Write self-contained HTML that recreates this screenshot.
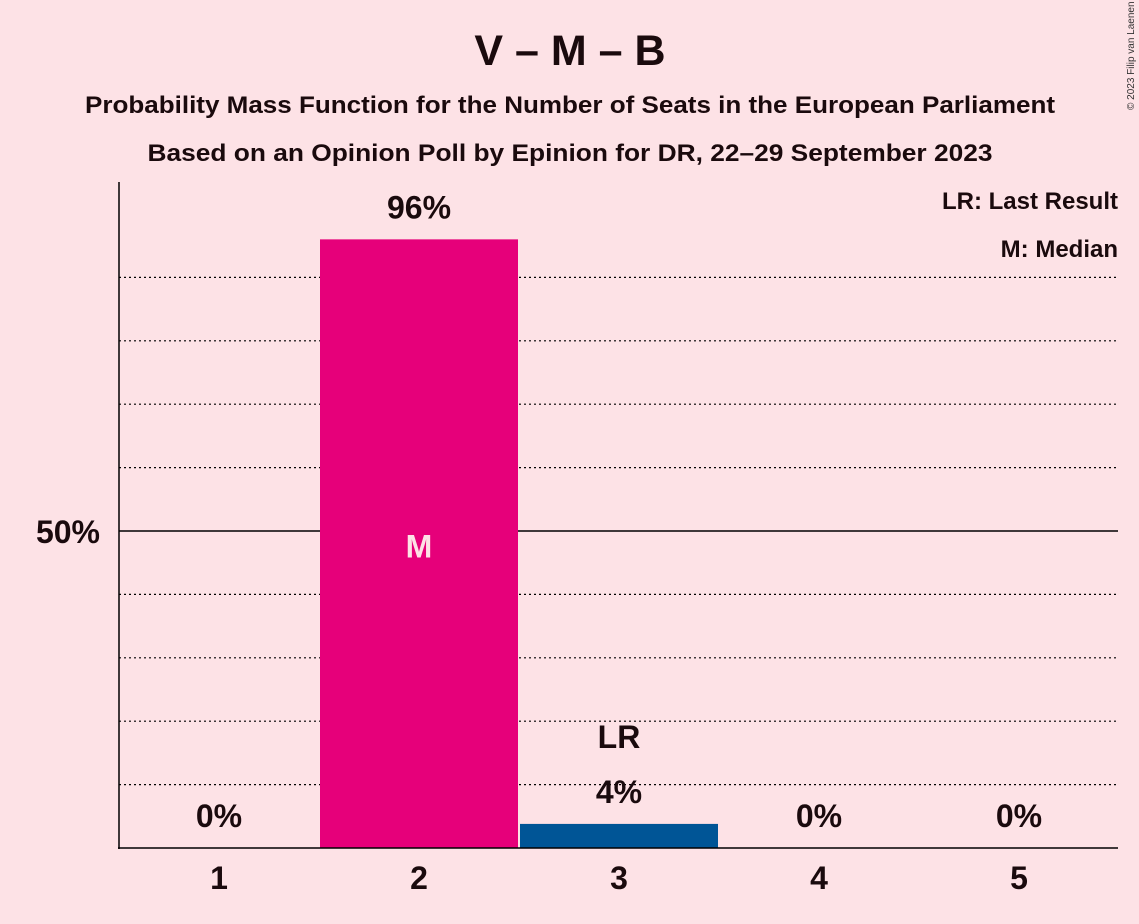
<!DOCTYPE html>
<html><head><meta charset="utf-8"><style>
body{margin:0;background:#fde2e6;}
svg{display:block;font-family:"Liberation Sans",sans-serif;}
</style></head><body>
<svg id="chart" width="1139" height="924">
<rect width="1139" height="924" fill="#fde2e6"/>
<text x="570" y="65" text-anchor="middle" font-size="43" font-weight="bold" fill="#1a0a0d">V – M – B</text>
<text x="570" y="113" text-anchor="middle" font-size="24" font-weight="bold" fill="#1a0a0d" textLength="970" lengthAdjust="spacingAndGlyphs">Probability Mass Function for the Number of Seats in the European Parliament</text>
<text x="570" y="161" text-anchor="middle" font-size="24" font-weight="bold" fill="#1a0a0d" textLength="845" lengthAdjust="spacingAndGlyphs">Based on an Opinion Poll by Epinion for DR, 22–29 September 2023</text>
<text x="1134" y="110" transform="rotate(-90 1134 110)" font-size="10" fill="#333">© 2023 Filip van Laenen</text>
<text x="1118" y="209" text-anchor="end" font-size="24" font-weight="bold" fill="#1a0a0d">LR: Last Result</text>
<text x="1118" y="257" text-anchor="end" font-size="24" font-weight="bold" fill="#1a0a0d">M: Median</text>
<g id="grid"></g>
<g id="bars"></g>
<line x1="119" y1="182" x2="119" y2="849" stroke="#000" stroke-width="1.5"/>
<line x1="118" y1="848" x2="1118" y2="848" stroke="#000" stroke-width="1.5"/>
<text x="100" y="543" text-anchor="end" font-size="32" font-weight="bold" fill="#1a0a0d">50%</text>
</svg>
<script>
const categories=["1","2","3","4","5"];
const values=[0,96,3.8,0,0];
const valueLabels=["0%","96%","4%","0%","0%"];
const medianIndex=1;
const lastResultIndex=2;
const x0=119,catW=200,y0=848,yScale=6.34;
const NS="http://www.w3.org/2000/svg";
function xc(i){return x0+catW*i+catW/2;}
function y(v){return y0-v*yScale;}
const grid=document.getElementById('grid'),bars=document.getElementById('bars');
for(let p=10;p<=90;p+=10){
 const l=document.createElementNS(NS,'line');
 l.setAttribute('x1',119);l.setAttribute('x2',1118);l.setAttribute('y1',y(p));l.setAttribute('y2',y(p));
 l.setAttribute('stroke','#000');
 if(p===50){l.setAttribute('stroke-width','1.5');}else{l.setAttribute('stroke-width','1.2');l.setAttribute('stroke-dasharray','2,3');}
 
 
 grid.appendChild(l);
}
function txt(parent,x,yy,s,size,fill){
 const t=document.createElementNS(NS,'text');
 t.setAttribute('x',x);t.setAttribute('y',yy);t.setAttribute('text-anchor','middle');
 t.setAttribute('font-size',size);t.setAttribute('font-weight','bold');t.setAttribute('fill',fill);
 t.textContent=s;parent.appendChild(t);return t;
}
categories.forEach((c,i)=>{
 const v=values[i];
 if(v>0){
  const r=document.createElementNS(NS,'rect');
  r.setAttribute('x',xc(i)-99);r.setAttribute('width',198);
  r.setAttribute('y',y(v));r.setAttribute('height',y0-y(v));
  r.setAttribute('fill',i===medianIndex?'#e6007a':'#005596');
  
  
  bars.appendChild(r);
 }
 const lbl=txt(bars,xc(i),Math.min(y(v),y0)-21,valueLabels[i],32,'#1a0a0d');
 
 
 const tk=txt(bars,xc(i),889,c,32,'#1a0a0d');
 
 
 if(i===lastResultIndex){
  const lr=txt(bars,xc(i),y(v)-76,'LR',32,'#1a0a0d');
  
  
 }
 if(i===medianIndex){
  const m=txt(bars,xc(i),y(48)+14,'M',32,'#fde2e6');
  
  
 }
});
</script>
</body></html>
